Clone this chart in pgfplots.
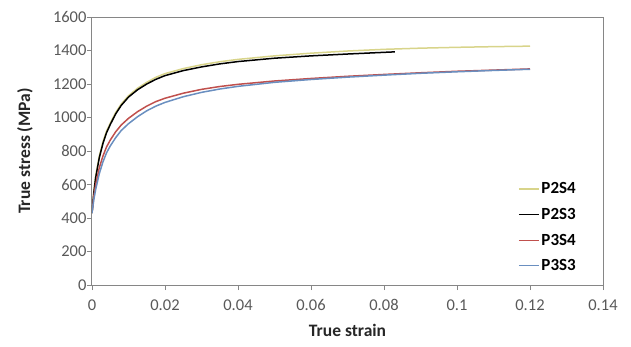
\documentclass[border=0pt]{standalone}
\usepackage{pgfplots}
\pgfplotsset{compat=1.18}
\usepackage{fontspec}
\setmainfont{Carlito}
\definecolor{axgray}{HTML}{868686}
\definecolor{tkgray}{HTML}{595959}
\definecolor{cyel}{HTML}{D8D48A}
\definecolor{cred}{HTML}{C0504D}
\definecolor{cblue}{HTML}{6A8FC0}
\begin{document}
\begin{tikzpicture}
\useasboundingbox (-92pt,-61pt) rectangle (539pt,285pt);
\begin{axis}[
  scale only axis, width=511pt, height=268pt,
  at={(0,0)}, anchor=south west,
  xmin=0, xmax=0.14, ymin=0, ymax=1600,
  xtick={0,0.02,0.04,0.06,0.08,0.1,0.12,0.14},
  xticklabels={0,0.02,0.04,0.06,0.08,0.1,0.12,0.14},
  ytick={0,200,400,600,800,1000,1200,1400,1600},
  yticklabels={0,200,400,600,800,1000,1200,1400,1600},
  tick align=outside, tick style={axgray, line width=0.8pt}, major tick length=5pt,
  axis line style={axgray, line width=1pt},
  xtick pos=bottom, ytick pos=left,
  ticklabel style={font=\fontsize{16.5}{18}\selectfont, text=tkgray},
  xticklabel style={yshift=-6pt},
  yticklabel style={xshift=3pt},
  /pgf/number format/assume math mode=true,
  xlabel={\textbf{True strain}},
  ylabel={\textbf{True stress (MPa)}},
  label style={font=\fontsize{17.5}{20}\selectfont, text=black!85},
  xlabel style={at={(axis description cs:0.5,-0.17)}, anchor=center},
  ylabel style={at={(axis description cs:-0.131,0.5)}, anchor=center},
  legend style={draw=none, fill=none, font=\fontsize{17}{19}\selectfont\bfseries,
    at={(0.953,0.394)}, anchor=north east, row sep=9pt, inner sep=1pt,
    /tikz/every even column/.append style={column sep=0pt}},
  legend cell align=left,
  legend image code/.code={\draw[#1, line width=1.2pt] (0pt,0pt) -- (20pt,0pt);},
]
\addplot[cyel, line width=1.5pt] coordinates {
(0,430) (0.0005,560) (0.001,650) (0.002,770) (0.003,855) (0.004,920) (0.005,965)
(0.0065,1030) (0.008,1080) (0.010,1130) (0.0125,1175) (0.015,1210) (0.0175,1240)
(0.020,1262) (0.025,1292) (0.030,1315) (0.035,1333) (0.040,1347) (0.050,1368)
(0.060,1384) (0.070,1397) (0.080,1407) (0.090,1414) (0.100,1419) (0.110,1423) (0.120,1426)};
\addlegendentry{P2S4}
\addplot[black, line width=1.5pt] coordinates {
(0,430) (0.0005,550) (0.001,640) (0.002,760) (0.003,845) (0.004,910) (0.005,958)
(0.0065,1022) (0.008,1072) (0.010,1122) (0.0125,1166) (0.015,1200) (0.0175,1228)
(0.020,1250) (0.025,1280) (0.030,1302) (0.035,1320) (0.040,1334) (0.050,1354)
(0.060,1368) (0.070,1379) (0.080,1389) (0.083,1392)};
\addlegendentry{P2S3}
\addplot[cred, line width=1.5pt] coordinates {
(0,430) (0.0005,530) (0.001,600) (0.002,700) (0.003,770) (0.004,825) (0.005,865)
(0.0065,915) (0.008,955) (0.010,995) (0.0125,1035) (0.015,1068) (0.0175,1095)
(0.020,1115) (0.025,1145) (0.030,1168) (0.035,1185) (0.040,1198) (0.050,1218)
(0.060,1233) (0.070,1246) (0.080,1257) (0.090,1267) (0.100,1276) (0.110,1283) (0.120,1290)};
\addlegendentry{P3S4}
\addplot[cblue, line width=1.5pt] coordinates {
(0,430) (0.0005,510) (0.001,570) (0.002,665) (0.003,735) (0.004,790) (0.005,830)
(0.0065,880) (0.008,922) (0.010,963) (0.0125,1005) (0.015,1040) (0.0175,1068)
(0.020,1090) (0.025,1124) (0.030,1150) (0.035,1170) (0.040,1186) (0.050,1210)
(0.060,1227) (0.070,1241) (0.080,1253) (0.090,1264) (0.100,1273) (0.110,1281) (0.120,1288)};
\addlegendentry{P3S3}
\draw[axgray, line width=1pt] (rel axis cs:0,1) -- (rel axis cs:1,1) -- (rel axis cs:1,0);
\end{axis}
\end{tikzpicture}
\end{document}
